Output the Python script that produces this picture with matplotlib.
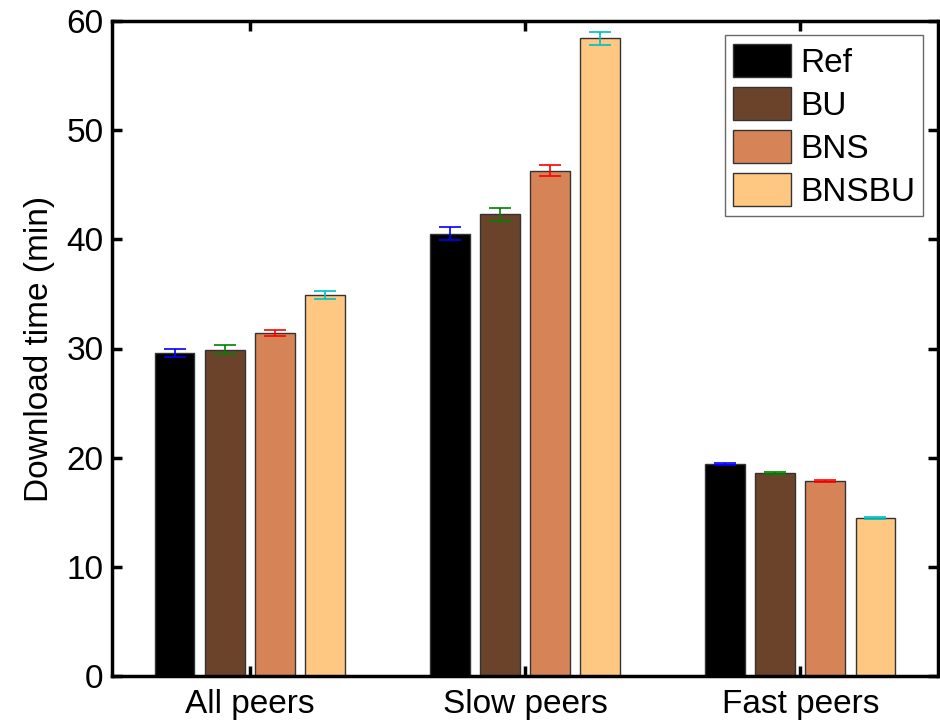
import numpy as np
import matplotlib
matplotlib.use('Agg')
import matplotlib.pyplot as plt

groups = ['All peers', 'Slow peers', 'Fast peers']
series = ['Ref', 'BU', 'BNS', 'BNSBU']
ref = [29.6, 40.5, 19.4]
bu = [29.9, 42.3, 18.6]
bns = [31.4, 46.3, 17.9]
bnsbu = [34.9, 58.4, 14.5]
ref_err = [0.4, 0.6, 0.1]
bu_err = [0.4, 0.6, 0.1]
bns_err = [0.3, 0.5, 0.1]
bnsbu_err = [0.4, 0.6, 0.1]

bar_colors = ['#000000', '#6b432b', '#d68457', '#fec882']
err_colors = ['#0000ff', '#008000', '#ff0000', '#00bfbf']

plt.rcParams['font.family'] = ['Liberation Sans', 'DejaVu Sans']

fig = plt.figure(figsize=(9.4, 7.23), dpi=100)
ax = fig.add_axes([112/940, 1-676/723, (938-112)/940, (676-21)/723])

x = np.arange(1, 4)
width = 0.145
offsets = [-0.273, -0.091, 0.091, 0.273]
vals = [ref, bu, bns, bnsbu]
errs = [ref_err, bu_err, bns_err, bnsbu_err]
for i in range(4):
    ax.bar(x + offsets[i], vals[i], width, color=bar_colors[i], edgecolor='#333333',
           linewidth=1.0, label=series[i], zorder=2)
    ax.errorbar(x + offsets[i], vals[i], yerr=errs[i], fmt='none', ecolor=err_colors[i],
                elinewidth=1.2, capsize=8, capthick=1.2, zorder=3)

ax.set_xlim(0.5, 3.5)
ax.set_ylim(0, 60)
ax.set_xticks(x)
ax.set_xticklabels(groups)
ax.set_yticks(range(0, 61, 10))
ax.set_ylabel('Download time (min)', fontsize=24, labelpad=8)
ax.tick_params(direction='in', length=7, width=2.5, labelsize=24,
               top=True, right=True, pad=6)
ax.tick_params(axis='x', pad=9)
for s in ax.spines.values():
    s.set_linewidth(2.5)

leg = ax.legend(loc='upper right', fontsize=24, fancybox=False, edgecolor='#444444',
                handlelength=1.75, handleheight=1.15, handletextpad=0.25,
                borderpad=0.25, labelspacing=0.25, borderaxespad=0,
                bbox_to_anchor=(0.982, 0.978))
leg.get_frame().set_linewidth(1.0)

fig.savefig('out.png', dpi=100)
